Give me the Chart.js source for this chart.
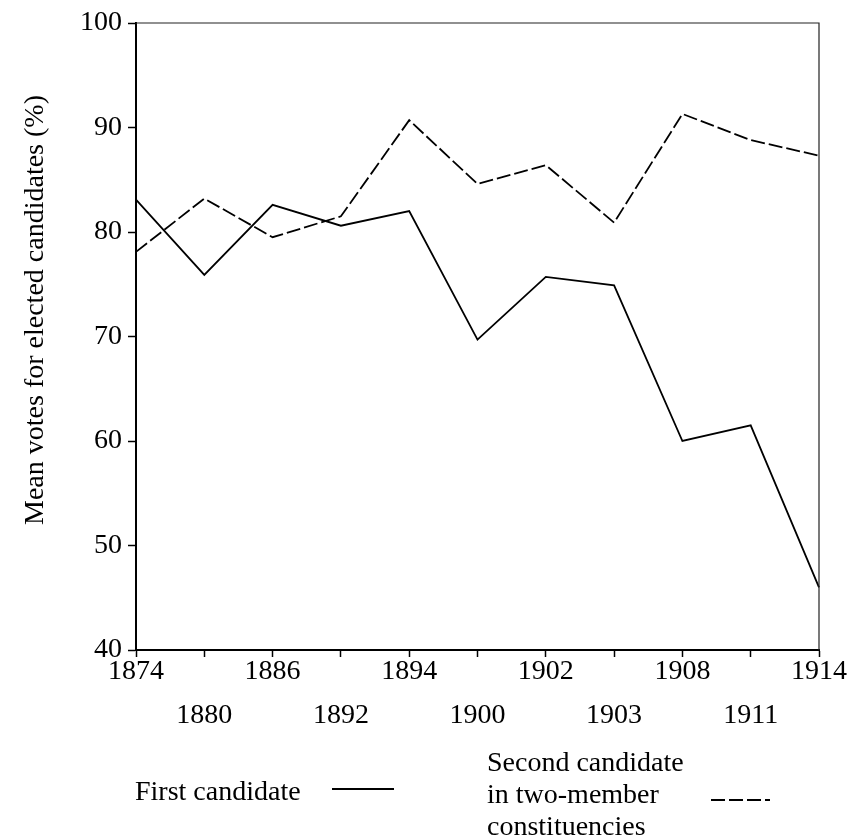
<!DOCTYPE html>
<html>
<head>
<meta charset="utf-8">
<title>Mean votes for elected candidates</title>
<script src="https://cdn.jsdelivr.net/npm/chart.js@4.4.1/dist/chart.umd.min.js"></script>
<style>
  html, body { margin: 0; padding: 0; background: #fff; }
  #wrap { width: 850px; height: 839px; }
</style>
</head>
<body>
<div id="wrap"><canvas id="chart" width="850" height="839"></canvas></div>
<script>
// ===== Data =====
const years = ["1874", "1880", "1886", "1892", "1894", "1900", "1902", "1903", "1908", "1911", "1914"];
const firstCandidate = [83.1, 75.9, 82.6, 80.6, 82.0, 69.7, 75.7, 74.9, 60.0, 61.5, 46.0];
const secondCandidate = [78.1, 83.2, 79.5, 81.5, 90.7, 84.6, 86.4, 80.9, 91.3, 88.8, 87.3];
const yMin = 40;
const yMax = 100;
const yStep = 10;
const yTitle = "Mean votes for elected candidates (%)";
const firstLabel = ["First candidate"];
const secondLabel = ["Second candidate", "in two-member", "constituencies"];

const FONT = "'Liberation Serif', 'Times New Roman', Times, serif";

// box (top/right edges), y title and the text-then-line legend
const framePlugin = {
  id: "frame",
  afterDatasetsDraw(chart) {
    const { ctx, chartArea } = chart;
    ctx.save();
    ctx.strokeStyle = "#222";
    ctx.lineWidth = 1.2;
    ctx.beginPath();
    ctx.moveTo(chartArea.left, chartArea.top);
    ctx.lineTo(chartArea.right, chartArea.top);
    ctx.lineTo(chartArea.right, chartArea.bottom);
    ctx.stroke();
    ctx.restore();
  },
  afterDraw(chart) {
    const ctx = chart.ctx;
    ctx.save();
    ctx.fillStyle = "#000";
    ctx.font = "28px " + FONT;

    // y axis title
    ctx.save();
    ctx.translate(36, 310);
    ctx.rotate(-Math.PI / 2);
    ctx.textAlign = "center";
    ctx.textBaseline = "middle";
    ctx.fillText(yTitle, 0, 0);
    ctx.restore();

    // legend
    const spots = [
      { textX: 135, baseline: 800, lineX1: 332, lineX2: 394, lineY: 789 },
      { textX: 487, baseline: 771, lineX1: 711, lineX2: 770, lineY: 800 }
    ];
    chart.data.datasets.forEach((ds, i) => {
      const s = spots[i];
      ctx.textAlign = "left";
      ctx.textBaseline = "alphabetic";
      ds.legendLines.forEach((line, j) => ctx.fillText(line, s.textX, s.baseline + j * 32));
      ctx.beginPath();
      ctx.strokeStyle = ds.borderColor;
      ctx.lineWidth = ds.borderWidth;
      ctx.setLineDash(ds.borderDash || []);
      ctx.moveTo(s.lineX1, s.lineY);
      ctx.lineTo(s.lineX2, s.lineY);
      ctx.stroke();
      ctx.setLineDash([]);
    });
    ctx.restore();
  }
};

const ctx = document.getElementById("chart").getContext("2d");
new Chart(ctx, {
  type: "line",
  data: {
    labels: years,
    datasets: [
      {
        label: firstLabel.join(" "),
        legendLines: firstLabel,
        data: firstCandidate,
        borderColor: "#000",
        borderWidth: 1.8,
        pointRadius: 0,
        tension: 0,
        fill: false
      },
      {
        label: secondLabel.join(" "),
        legendLines: secondLabel,
        data: secondCandidate,
        borderColor: "#000",
        borderWidth: 1.8,
        borderDash: [14, 4],
        pointRadius: 0,
        tension: 0,
        fill: false
      }
    ]
  },
  options: {
    responsive: false,
    animation: false,
    devicePixelRatio: 1,
    layout: { padding: { top: 23, right: 31, bottom: 0, left: 0 } },
    plugins: {
      legend: { display: false },
      tooltip: { enabled: false }
    },
    scales: {
      x: {
        offset: false,
        grid: { display: true, drawOnChartArea: false, drawTicks: true, tickLength: 7, tickColor: "#000", tickWidth: 1.5 },
        border: { display: true, color: "#000", width: 2 },
        ticks: {
          autoSkip: false,
          maxRotation: 0,
          minRotation: 0,
          padding: -7,
          color: "#000",
          font: { family: FONT, size: 28, lineHeight: "44px" },
          // every other year drops to a second row
          callback: (value, index) => index % 2 ? ["", years[index]] : years[index]
        },
        afterFit: (scale) => { scale.height = 189; }
      },
      y: {
        min: yMin,
        max: yMax,
        grid: { display: true, drawOnChartArea: false, drawTicks: true, tickLength: 8, tickColor: "#000", tickWidth: 1.5 },
        border: { display: true, color: "#000", width: 2 },
        ticks: {
          stepSize: yStep,
          padding: 6,
          color: "#000",
          font: { family: FONT, size: 28 }
        },
        afterFit: (scale) => { scale.width = 136; }
      }
    }
  },
  plugins: [framePlugin]
});
</script>
</body>
</html>
